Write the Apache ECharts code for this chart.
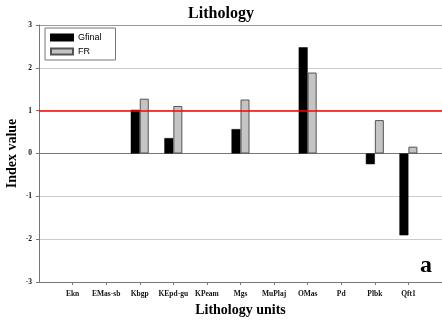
<!DOCTYPE html>
<html><head><meta charset="utf-8">
<script src="https://cdn.jsdelivr.net/npm/echarts@6/dist/echarts.min.js"></script>
<style>html,body{margin:0;padding:0;background:#fff}#c{width:442px;height:328px}</style>
</head><body><div id="c"></div>
<script>
const categories = ['Ekn','EMas-sb','Kbgp','KEpd-gu','KPeam','Mgs','MuPlaj','OMas','Pd','Plbk','Qft1'];
const gfinal = [null, null, 1.02, 0.36, null, 0.57, null, 2.48, null, -0.25, -1.91];
const fr = [null, null, 1.28, 1.11, null, 1.26, null, 1.89, null, 0.78, 0.16];
const yTicks = [-3, -2, -1, 0, 1, 2, 3];

const serif = '"Liberation Serif","DejaVu Serif",serif';
const xData = [''].concat(categories, ['']);
const pad = a => [null].concat(a, [null]);

const chart = echarts.init(document.getElementById('c'));
chart.setOption({
  animation: false,
  title: {
    text: 'Lithology', left: 'center', top: 1,
    textStyle: { fontFamily: serif, fontWeight: 'bold', fontSize: 16, color: '#000' }
  },
  legend: {
    orient: 'vertical', left: 45, top: 28,
    icon: 'rect',
    itemWidth: 22, itemHeight: 6, itemGap: 5,
    padding: [5, 14, 4, 5],
    borderColor: '#777', borderWidth: 1,
    textStyle: { fontFamily: '"Liberation Sans",Arial,sans-serif', fontSize: 9, color: '#000' },
    data: ['Gfinal', 'FR']
  },
  grid: { left: 39, right: 0, top: 25, bottom: 46, outerBoundsMode: 'none', containLabel: false },
  xAxis: {
    type: 'category', data: xData, boundaryGap: false,
    name: 'Lithology units', nameLocation: 'middle', nameGap: 21, nameMoveOverlap: false,
    nameTextStyle: { fontFamily: serif, fontWeight: 'bold', fontSize: 14, color: '#000' },
    axisLine: { onZero: false, lineStyle: { color: '#777' } },
    axisTick: { show: true, length: 3, lineStyle: { color: '#777' }, interval: (i, v) => v !== '' },
    axisLabel: { interval: 0, margin: 8, fontFamily: serif, fontWeight: 'bold', fontSize: 7.5, color: '#111' },
    splitLine: { show: false }
  },
  yAxis: {
    type: 'value', min: yTicks[0], max: yTicks[yTicks.length - 1], interval: 1,
    name: 'Index value', nameLocation: 'middle', nameGap: 20, nameMoveOverlap: false,
    nameTextStyle: { fontFamily: serif, fontWeight: 'bold', fontSize: 14, color: '#000' },
    axisLine: { show: true, lineStyle: { color: '#777' } },
    axisTick: { show: true, length: 3, lineStyle: { color: '#777' } },
    axisLabel: { margin: 7, fontFamily: serif, fontWeight: 'bold', fontSize: 7.5, color: '#111' },
    splitLine: { show: true, lineStyle: { color: ['#999', '#ccc', '#ccc', '#777', '#ccc', '#ccc', '#999'], width: 1 } }
  },
  series: [
    {
      name: 'Gfinal', type: 'bar', data: pad(gfinal), barWidth: 9, barGap: '0%',
      itemStyle: { color: '#000', borderColor: '#000', borderWidth: 0.5 },
      markLine: {
        silent: true, symbol: 'none', label: { show: false },
        lineStyle: { color: '#ff0000', type: 'solid', width: 1.5 },
        data: [{ yAxis: 1 }]
      }
    },
    {
      name: 'FR', type: 'bar', data: pad(fr), barWidth: 9,
      itemStyle: { color: '#c4c4c4', borderColor: '#555', borderWidth: 1 }
    }
  ],
  graphic: [{
    type: 'text', left: 420, top: 254,
    style: { text: 'a', font: 'bold 24px ' + serif, fill: '#000' }
  }]
});
</script></body></html>
